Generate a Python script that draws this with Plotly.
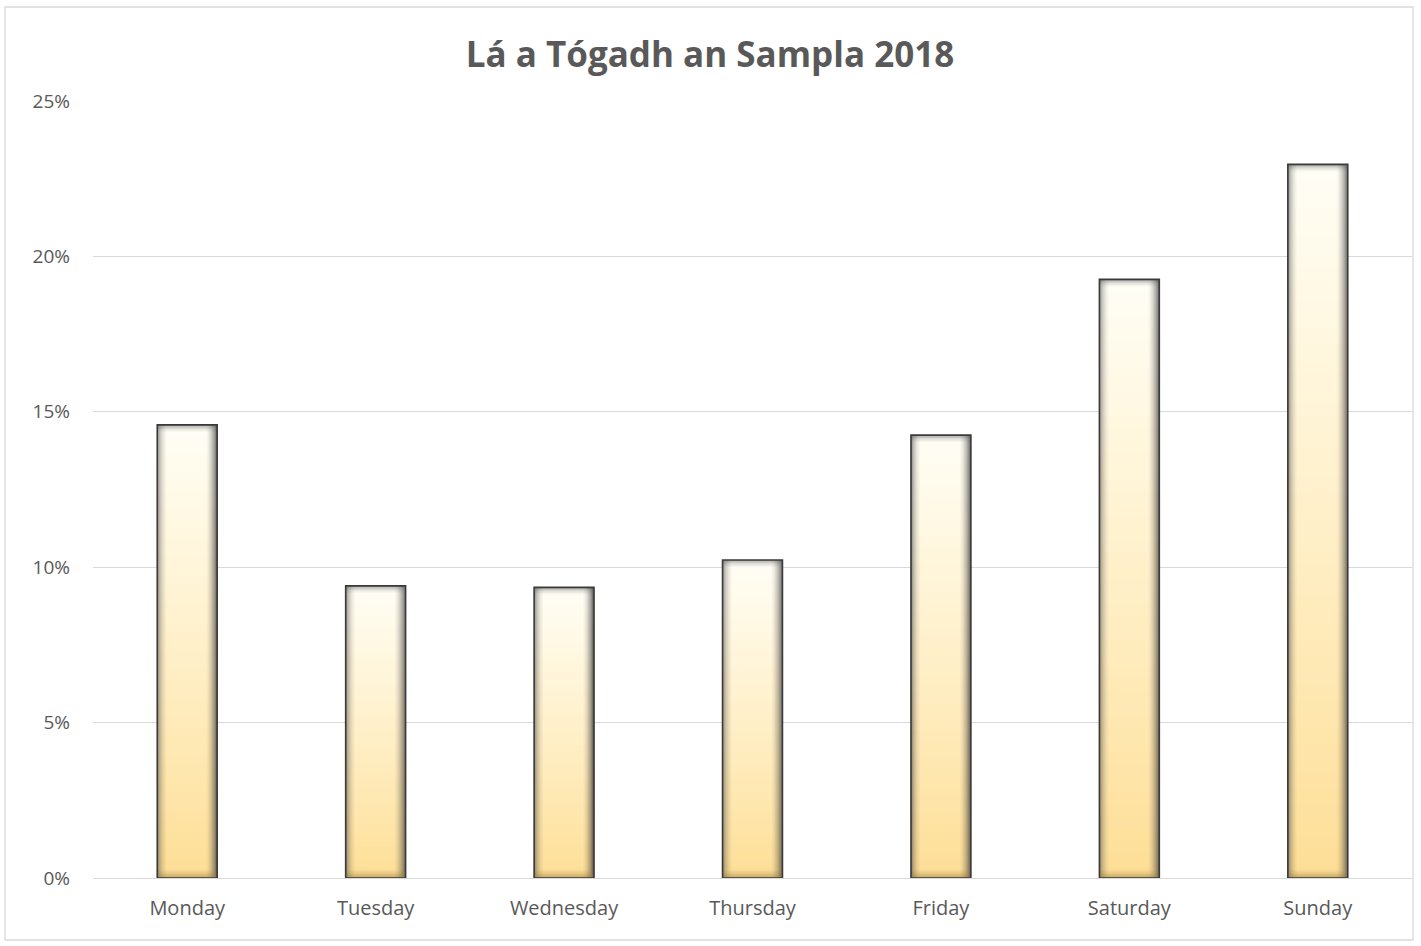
import plotly.graph_objects as go
import numpy as np

# ---- data ----
days = ["Monday", "Tuesday", "Wednesday", "Thursday", "Friday", "Saturday", "Sunday"]
share = [0.1458, 0.0940, 0.0935, 0.1023, 0.1425, 0.1926, 0.2296]
title_text = "Lá a Tógadh an Sampla 2018"
y_ticks = [0, 0.05, 0.10, 0.15, 0.20, 0.25]
y_ticklabels = ["0%", "5%", "10%", "15%", "20%", "25%"]

# ---- style ----
BAR_W = 0.318
N_SEG = 48
stops = [(0.0, (253, 222, 150)), (0.45, (255, 238, 196)), (1.0, (255, 254, 246))]


def grad_color(t):
    for (t0, c0), (t1, c1) in zip(stops[:-1], stops[1:]):
        if t <= t1:
            f = (t - t0) / (t1 - t0)
            c = [round(a + (b - a) * f) for a, b in zip(c0, c1)]
            return f"rgb({c[0]},{c[1]},{c[2]})"
    c = stops[-1][1]
    return f"rgb({c[0]},{c[1]},{c[2]})"


vals = np.array(share)
fig = go.Figure()

# vertical gradient: overlapping slices, each from its start up to the bar top
for k in range(N_SEG):
    t = (k + 0.5) / N_SEG
    fig.add_trace(go.Bar(
        x=days, y=vals * (1 - k / N_SEG), base=vals * k / N_SEG,
        width=BAR_W, marker=dict(color=grad_color(t), line=dict(width=0)),
        hoverinfo="skip", showlegend=False))

# bevel side shading strips
left_edge = -BAR_W / 2
strip = BAR_W / 60
for i, a in enumerate([0.62, 0.48, 0.37, 0.28, 0.21, 0.15, 0.1, 0.06, 0.03]):
    fig.add_trace(go.Bar(
        x=days, y=vals, base=0, width=strip, offset=left_edge + i * strip,
        marker=dict(color=f"rgba(70,70,70,{a})", line=dict(width=0)),
        hoverinfo="skip", showlegend=False))
for i, a in enumerate([0.82, 0.68, 0.55, 0.44, 0.35, 0.27, 0.2, 0.14, 0.09, 0.05, 0.02]):
    fig.add_trace(go.Bar(
        x=days, y=vals, base=0, width=strip, offset=BAR_W / 2 - (i + 1) * strip,
        marker=dict(color=f"rgba(55,55,55,{a})", line=dict(width=0)),
        hoverinfo="skip", showlegend=False))

# top and bottom bevel bands
band = 0.00045
for i, a in enumerate([0.5, 0.35, 0.22, 0.12, 0.05]):
    fig.add_trace(go.Bar(
        x=days, y=[band] * len(days), base=vals - (i + 1) * band, width=BAR_W,
        marker=dict(color=f"rgba(90,90,90,{a})", line=dict(width=0)),
        hoverinfo="skip", showlegend=False))
for i, a in enumerate([0.55, 0.42, 0.3, 0.2, 0.12, 0.05]):
    fig.add_trace(go.Bar(
        x=days, y=[band] * len(days), base=i * band, width=BAR_W,
        marker=dict(color=f"rgba(150,120,60,{a})", line=dict(width=0)),
        hoverinfo="skip", showlegend=False))

# outline
fig.add_trace(go.Bar(
    x=days, y=vals, base=0, width=BAR_W,
    marker=dict(color="rgba(0,0,0,0)", line=dict(color="#3a3a3a", width=1.6)),
    hovertemplate="%{x}: %{y:.1%}<extra></extra>", showlegend=False))

font_family = "'Open Sans', Lato, 'DejaVu Sans', sans-serif"
L, R, T, B = 93, 9, 101, 68
W, H = 1421, 946
pw, ph = W - L - R, H - T - B

fig.update_layout(
    width=W, height=H,
    barmode="overlay",
    paper_bgcolor="white", plot_bgcolor="white",
    margin=dict(l=L, r=R, t=T, b=B),
    title=dict(text=f"<b>{title_text}</b>", x=710 / W, xref="container", xanchor="center",
               y=1 - 55 / H, yref="container", yanchor="middle",
               font=dict(family=font_family, size=35, color="#595959")),
    xaxis=dict(showgrid=False, showline=True, linecolor="#d9d9d9", linewidth=1.3,
               ticks="", ticklabelstandoff=12,
               tickfont=dict(family=font_family, size=20, color="#595959"),
               range=[-0.5, 6.5]),
    yaxis=dict(range=[0, 0.25], tickvals=y_ticks, ticktext=y_ticklabels,
               showgrid=True, gridcolor="#d9d9d9", gridwidth=1.3, zeroline=False,
               ticks="", ticklabelstandoff=22,
               tickfont=dict(family=font_family, size=19, color="#595959")),
    shapes=[dict(type="rect", xref="paper", yref="paper",
                 x0=(5 - L) / pw, x1=(1413 - L) / pw,
                 y0=(H - B - 940) / ph, y1=(H - B - 7) / ph,
                 line=dict(color="#d9d9d9", width=1.3), fillcolor="rgba(0,0,0,0)",
                 layer="below")],
)

fig.write_html("out.html", config={"displayModeBar": False},
               post_script="document.body.style.margin='0';")
